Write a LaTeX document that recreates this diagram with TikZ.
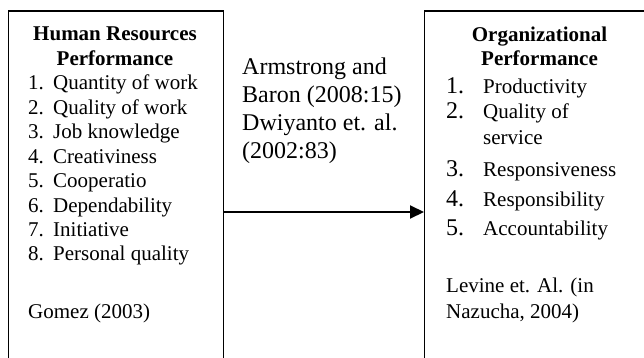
\documentclass[tikz,border=0pt]{standalone}
\usepackage{fontspec}
\setmainfont{Liberation Serif}
\usetikzlibrary{arrows.meta}
\tikzset{
  box/.style={draw, line width=1.3pt, inner sep=0pt, anchor=north west},
  txt/.style={inner sep=0pt, anchor=base west, font=\fontsize{21}{24}\selectfont},
  bignum/.style={inner sep=0pt, anchor=base west, font=\fontsize{24}{27}\selectfont},
  mid/.style={inner sep=0pt, anchor=base west, font=\fontsize{24}{27}\selectfont},
  ttl/.style={inner sep=0pt, anchor=base, font=\fontsize{21}{24}\selectfont\bfseries},
  conn/.style={line width=2pt, -{Triangle[length=14pt,width=13pt]}}
}
\begin{document}
\begin{tikzpicture}[x=1pt,y=-1pt]
\useasboundingbox (0,0) rectangle (644,358);
\clip (0,0) rectangle (644,358);
% boxes
\node[box, minimum width=215pt, minimum height=420pt] (hr) at (8,10.5) {};
\node[box, minimum width=260pt, minimum height=420pt] (op) at (424,10.5) {};
% left box text
\node[ttl] (hrt1) at (115,41) {Human Resources};
\node[ttl] (hrt2) at (115,65.5) {Performance};
\foreach \t [count=\i] in {Quantity of work, Quality of work, Job knowledge, Creativiness, Cooperatio, Dependability, Initiative, Personal quality} {
  \node[txt] (hn\i) at (28,{90+24.4*(\i-1)}) {\i.};
  \node[txt] (ht\i) at (53,{90+24.4*(\i-1)}) {\t};
}
\node[txt] (gomez) at (28,318) {Gomez (2003)};
% middle text
\node[mid] (m1) at (242,75) {Armstrong and};
\node[mid] (m2) at (242,103) {Baron (2008:15)};
\node[mid] (m3) at (242,130.5) {Dwiyanto et. al.};
\node[mid] (m4) at (242,158) {(2002:83)};
% right box text
\node[ttl] (opt1) at (539.5,42) {Organizational};
\node[ttl] (opt2) at (539.5,65.5) {Performance};
\node[bignum] (on1) at (446,94) {1.};
\node[txt] (ot1) at (483,94) {Productivity};
\node[bignum] (on2) at (446,119) {2.};
\node[txt] (ot2) at (483,119) {Quality of};
\node[txt] (ot2b) at (483,145) {service};
\node[bignum] (on3) at (446,176) {3.};
\node[txt] (ot3) at (483,176) {Responsiveness};
\node[bignum] (on4) at (446,206) {4.};
\node[txt] (ot4) at (483,206) {Responsibility};
\node[bignum] (on5) at (446,235) {5.};
\node[txt] (ot5) at (483,235) {Accountability};
\node[txt] (lev1) at (446,292) {Levine et. Al. (in};
\node[txt] (lev2) at (446,318) {Nazucha, 2004)};
% connector
\coordinate (ay) at (0,212);
\draw[conn] (hr.east |- ay) -- (op.west |- ay);
\end{tikzpicture}
\end{document}
